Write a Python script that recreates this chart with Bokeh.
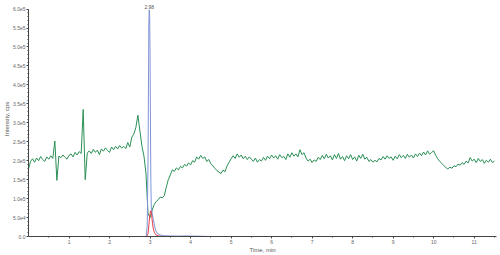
import numpy as np
from bokeh.plotting import figure
from bokeh.models import Range1d, CustomJSTickFormatter, SingleIntervalTicker, FixedTicker, Label
from bokeh.embed import file_html
from bokeh.resources import INLINE

# TIC trace (green), thousands of cps, sampled every 0.05 min; one row per minute
green_k = [
    178, 198, 205, 196, 207, 200, 211, 203, 198, 210, 204, 213, 206, 252, 148, 212, 208, 215, 209, 204,  # 0
    214, 218, 210, 222, 215, 224, 219, 335, 150, 220, 226, 219, 230, 222, 228, 216, 231, 225, 234, 227,  # 1
    222, 236, 229, 238, 231, 240, 233, 238, 232, 248, 236, 262, 270, 288, 320, 278, 238, 212, 165, 60,   # 2
    50, 69, 84, 92, 97, 104, 102, 108, 130, 150, 162, 176, 172, 181, 176, 185, 181, 190, 186, 194,       # 3
    189, 200, 196, 210, 204, 214, 206, 210, 198, 203, 192, 186, 180, 174, 170, 166, 175, 171, 186, 196,  # 4
    205, 213, 206, 218, 209, 215, 205, 212, 203, 210, 204, 198, 207, 196, 203, 199, 209, 201, 212, 205,  # 5
    215, 207, 213, 204, 216, 208, 211, 203, 218, 209, 221, 212, 218, 210, 229, 216, 221, 207, 199, 204,  # 6
    195, 202, 198, 209, 203, 214, 205, 217, 207, 213, 202, 216, 206, 219, 204, 211, 200, 213, 205, 216,  # 7
    203, 210, 199, 214, 206, 217, 204, 209, 198, 203, 196, 201, 197, 206, 202, 211, 204, 213, 206, 210,  # 8
    201, 212, 205, 216, 208, 214, 206, 217, 209, 215, 207, 218, 211, 220, 213, 223, 215, 226, 217, 222,  # 9
    226, 214, 205, 198, 193, 187, 182, 178, 183, 180, 187, 184, 191, 188, 195, 190, 199, 194, 208, 199,  # 10
    204, 195, 206, 198, 203, 193, 201, 196, 204, 195, 199,                                               # 11
]
green_t = [round(i * 0.05, 2) for i in range(len(green_k))]

# XIC trace 1 (blue), big peak at 2.98 min
blue_t = [2.50, 2.88, 2.91, 2.93, 2.95, 2.97, 2.98, 2.99, 3.00, 3.01, 3.02, 3.03, 3.05, 3.08, 3.11,
          3.14, 3.18, 3.25, 3.35, 3.50, 3.70, 3.90, 4.10, 4.30, 4.50, 11.50]
blue_k = [0, 0, 3, 30, 200, 560, 598, 580, 480, 300, 140, 80, 62, 45, 28,
          16, 8, 4, 2, 1.5, 1, 1.5, 1, 0.5, 0, 0]

# XIC trace 2 (red), small peak near 3.02 min
red_t = [2.50, 2.92, 2.95, 2.98, 3.00, 3.02, 3.04, 3.06, 3.08, 3.11, 3.15, 3.22, 3.30, 3.60]
red_k = [0, 0, 8, 40, 62, 68, 55, 35, 20, 10, 4, 1, 0, 0]

peak_time = 2.98
peak_label = "2.98"
x_ticks = [1, 2, 3, 4, 5, 6, 7, 8, 9, 10, 11]
x_minor = [0.5, 1.5, 2.5, 3.5, 4.5, 5.5, 6.5, 7.5, 8.5, 9.5, 10.5, 11.5]
y_axis_top = 600000

to_cps = lambda a: [v * 1000 for v in a]
green_y = to_cps(green_k)
blue_y = to_cps(blue_k)
red_y = to_cps(red_k)
peak_val = max(blue_y)

FONT = "Liberation Sans"

p = figure(width=500, height=255, output_backend="svg", toolbar_location=None,
           x_range=Range1d(0, 11.55), y_range=Range1d(0, 620000),
           min_border_left=0, min_border_right=4, min_border_top=1, min_border_bottom=0)
p.outline_line_color = None
p.grid.visible = False
p.background_fill_color = "white"
p.border_fill_color = "white"

p.line(green_t, green_y, line_color="#2a8f55", line_width=1)
p.line(blue_t, blue_y, line_color="#7f93d8", line_width=1)
p.line(red_t, red_y, line_color="#e8414a", line_width=1)

p.add_layout(Label(x=peak_time, y=peak_val, text=peak_label, text_align="center",
                   text_baseline="bottom", y_offset=1, text_font_size="5px",
                   text_color="#555555", text_font=FONT))

for ax in (p.xaxis[0], p.yaxis[0]):
    ax.axis_line_color = "#444444"
    ax.major_tick_line_color = "#444444"
    ax.minor_tick_line_color = "#444444"
    ax.major_tick_in = 0
    ax.major_tick_out = 2
    ax.minor_tick_in = 0
    ax.minor_tick_out = 1
    ax.major_label_text_font_size = "5px"
    ax.major_label_text_color = "#666666"
    ax.major_label_text_font = FONT
    ax.major_label_standoff = 1
    ax.axis_label_text_font_size = "6px"
    ax.axis_label_text_font_style = "normal"
    ax.axis_label_text_color = "#555555"
    ax.axis_label_text_font = FONT
    ax.axis_label_standoff = 0

p.yaxis.bounds = (0, y_axis_top)
p.xaxis.ticker = FixedTicker(ticks=x_ticks, minor_ticks=x_minor)
p.xaxis.axis_label = "Time, min"
p.yaxis.ticker = SingleIntervalTicker(interval=50000, num_minor_ticks=5)
p.yaxis.formatter = CustomJSTickFormatter(code="""
    if (tick == 0) { return "0.0"; }
    return tick.toExponential(1).replace("e+", "e");
""")
p.yaxis.axis_label = "Intensity, cps"

open("out.html", "w").write(file_html(p, INLINE))
